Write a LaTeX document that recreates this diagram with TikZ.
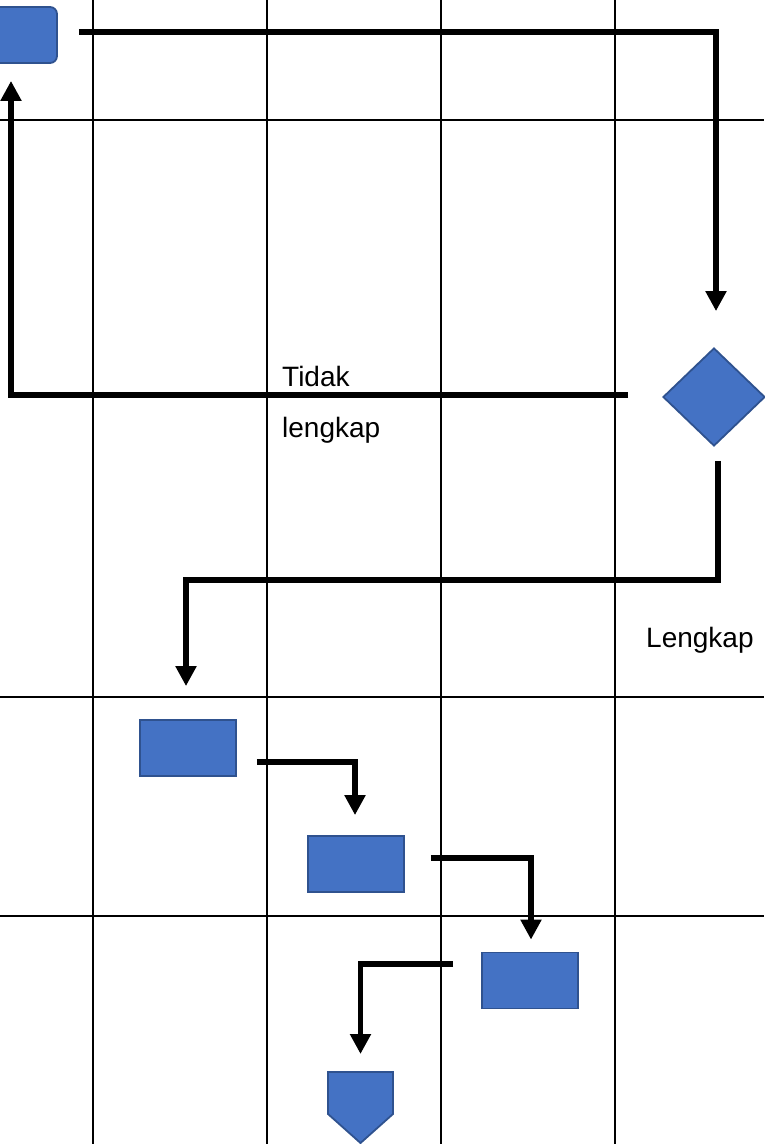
\documentclass[tikz,border=0pt]{standalone}
\usepackage{fontspec}
\setmainfont{Liberation Sans}
\usetikzlibrary{shapes.geometric,arrows.meta,calc}
\definecolor{boxfill}{HTML}{4472C4}
\definecolor{boxline}{HTML}{2F528F}
\begin{document}
\begin{tikzpicture}[x=1pt,y=-1pt,
  grid/.style={line width=2pt,black},
  shapebox/.style={fill=boxfill,draw=boxline,line width=1.8pt,inner sep=0pt},
  procbox/.style={shapebox,rectangle,minimum width=96pt,minimum height=56pt},
  conn/.style={line width=5.5pt,black,-{Triangle[width=20pt,length=20pt]}},
  lbl/.style={anchor=base west,inner sep=0pt,font=\fontsize{28}{34}\selectfont}]
\useasboundingbox (0,0) rectangle (764,1144);
% grid
\foreach \x in {93,267,441,615} \draw[grid] (\x,0) -- (\x,1144);
\foreach \y in {120,697,916} \draw[grid] (0,\y) -- (764,\y);
% shapes
\node[shapebox,rectangle,rounded corners=7pt,minimum width=97pt,minimum height=56pt] (s) at (8.5,35) {};
\node[shapebox,diamond,minimum width=102pt,minimum height=98pt] (d) at (714,397) {};
\node[procbox] (a) at (188,748) {};
\node[procbox] (b) at (356,864) {};
\node[procbox] (c) at (530,980.5) {};
\draw[shapebox] (328,1072) -- (393,1072) -- (393,1114) -- (360.5,1143) -- (328,1114) -- cycle;
\coordinate (e) at (360.5,1072);
% connectors
\draw[conn] ([shift={(21,-3)}]s.east) -| ([shift={(2,-36)}]d.north);
\draw[conn] ([shift={(-34,-2)}]d.west) -| ([shift={(2.5,17)}]s.south);
\draw[conn] ([shift={(4,14)}]d.south) -- ++(0,119) -| ([shift={(-2,-33)}]a.north);
\draw[conn] ([shift={(20,14)}]a.east) -| ([shift={(-1,-20)}]b.north);
\draw[conn] ([shift={(26,-6)}]b.east) -| ([shift={(1,-12)}]c.north);
\draw[conn] ([shift={(-28,-16.5)}]c.west) -| ([shift={(0,-18)}]e);
% labels
\node[lbl] (t1) at (282,386) {Tidak};
\node[lbl] (t2) at (282,437) {lengkap};
\node[lbl] (t3) at (646,647) {Lengkap};
\end{tikzpicture}
\end{document}
